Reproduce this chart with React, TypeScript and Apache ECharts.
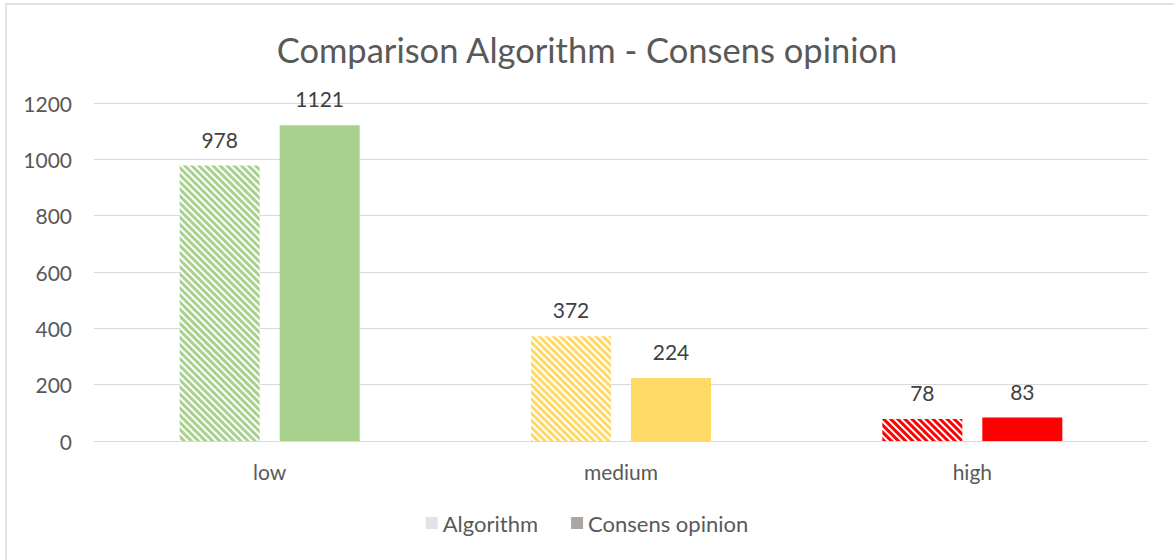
import React, { useEffect, useRef } from "react";
import * as echarts from "echarts";

const categories = ["low", "medium", "high"];
const algorithmValues = [978, 372, 78];
const consensValues = [1121, 224, 83];
const categoryColors = ["#a9d18e", "#ffd966", "#ff0000"];
const yTicks = [0, 200, 400, 600, 800, 1000, 1200];

const FONT = "Lato, 'Open Sans', sans-serif";

export default function App() {
  const ref = useRef<HTMLDivElement>(null);
  useEffect(() => {
    if (!ref.current) return;
    const chart = echarts.init(ref.current, undefined, { renderer: "svg" });
    const hatch = (c: string) => ({
      symbol: "rect",
      symbolSize: 1,
      color: c,
      backgroundColor: "#ffffff",
      dashArrayX: [1, 0],
      dashArrayY: [2.5, 1.5],
      rotation: Math.PI / 4,
    });
    chart.setOption({
      animation: false,
      textStyle: { fontFamily: FONT },
      graphic: [
        {
          type: "rect",
          shape: { x: 6, y: 4, width: 1180, height: 570 },
          style: { fill: "none", stroke: "#d9d9d9", lineWidth: 1.5 },
          silent: true,
        },
      ],
      title: {
        text: "Comparison Algorithm - Consens opinion",
        left: "center",
        top: 27,
        textStyle: { fontFamily: FONT, fontSize: 34.5, fontWeight: "normal", color: "#595959" },
      },
      legend: {
        bottom: 21,
        left: "center",
        itemWidth: 12,
        itemHeight: 12,
        itemGap: 33,
        icon: "rect",
        textStyle: { fontFamily: FONT, fontSize: 22, color: "#595959" },
        data: ["Algorithm", "Consens opinion"],
      },
      grid: { left: 94, right: 26, top: 103, bottom: 119, containLabel: false },
      xAxis: {
        type: "category",
        data: categories,
        axisLine: { lineStyle: { color: "#d9d9d9" } },
        axisTick: { show: false },
        axisLabel: { fontFamily: FONT, fontSize: 21, color: "#595959", margin: 20 },
      },
      yAxis: {
        type: "value",
        min: yTicks[0],
        max: yTicks[yTicks.length - 1],
        interval: yTicks[1] - yTicks[0],
        axisLine: { show: false },
        axisTick: { show: false },
        splitLine: { lineStyle: { color: "#d9d9d9" } },
        axisLabel: {
          fontFamily: FONT,
          fontSize: 21,
          color: "#595959",
          margin: 22,
          formatter: (v: number) => String(v),
        },
      },
      series: [
        {
          name: "Algorithm",
          type: "bar",
          barWidth: 80,
          barGap: "25%",
          itemStyle: { color: "#e3e3e3" },
          label: { show: true, position: "top", distance: 16, fontFamily: FONT, fontSize: 21, color: "#404040" },
          data: algorithmValues.map((v, i) => ({
            value: v,
            itemStyle: { color: "#ffffff", decal: hatch(categoryColors[i]) },
          })),
        },
        {
          name: "Consens opinion",
          type: "bar",
          barWidth: 80,
          itemStyle: { color: "#aba6a6" },
          label: { show: true, position: "top", distance: 16, fontFamily: FONT, fontSize: 21, color: "#404040" },
          data: consensValues.map((v, i) => ({ value: v, itemStyle: { color: categoryColors[i] } })),
        },
      ],
    });
    return () => chart.dispose();
  }, []);
  return (
    <div
      ref={ref}
      style={{ position: "absolute", left: 0, top: 0, width: 1174, height: 560, background: "#fff" }}
    />
  );
}
